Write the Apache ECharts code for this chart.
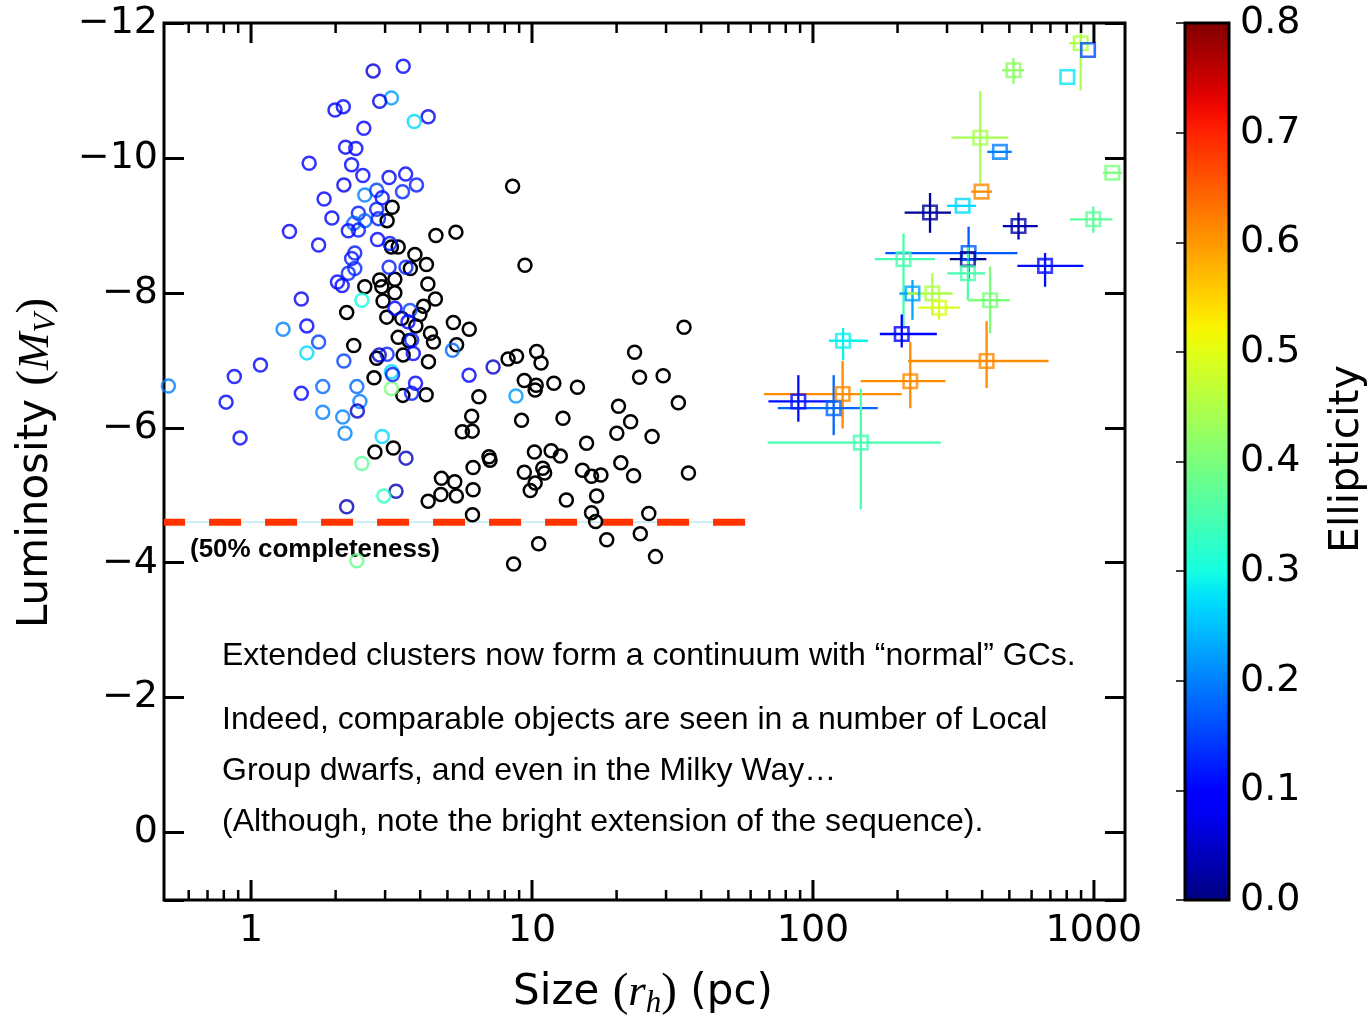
<!DOCTYPE html>
<html><head><meta charset="utf-8">
<script src="https://cdn.jsdelivr.net/npm/echarts@6/dist/echarts.min.js"></script>
<style>html,body{margin:0;padding:0;background:#fff}#c{width:1372px;height:1018px}</style>
</head><body><div id="c"></div>
<script>
// ---------- DATA ----------
// Globular clusters without ellipticity (black circles): size r_h (pc), M_V
const gcSize = [3.18,3.05,4.55,5.36,3.16,3.34,3.83,4.21,3.69,2.87,3.25,4.26,2.54,2.92,3.25,4.53,2.95,4.11,3.99,2.19,3.04,3.44,3.86,5.25,5.98,4.35,4.46,3.34,3.65,5.39,2.32,3.48,2.80,4.28,2.74,3.47,4.20,6.47,6.10,5.65,6.13,2.76,3.21,7.03,6.17,4.76,5.31,4.74,5.38,4.27,6.17,6.14,8.53,9.44,8.22,8.81,10.39,10.77,9.39,10.26,10.35,11.96,14.51,9.18,12.89,23.18,24.15,29.30,34.76,33.18,20.32,22.44,20.04,26.75,15.64,10.20,11.70,12.61,7.09,9.39,10.92,11.09,10.26,9.86,15.12,16.29,17.59,20.71,22.99,36.04,16.98,13.25,16.29,16.84,26.04,24.29,18.45,27.51,10.56,8.60];
const gcMv   = [-9.27,-9.07,-8.85,-8.90,-8.68,-8.68,-8.57,-8.42,-8.36,-8.19,-8.20,-8.13,-8.09,-8.09,-8.00,-7.91,-7.88,-7.80,-7.68,-7.71,-7.64,-7.62,-7.51,-7.56,-7.46,-7.40,-7.27,-7.34,-7.29,-7.23,-7.22,-7.08,-7.03,-6.98,-6.74,-6.48,-6.49,-6.46,-6.17,-5.94,-5.95,-5.64,-5.70,-5.57,-5.41,-5.25,-5.20,-5.01,-4.99,-4.91,-5.08,-4.71,-9.58,-8.41,-7.02,-7.06,-7.13,-6.96,-6.70,-6.56,-6.63,-6.66,-6.60,-6.11,-6.14,-7.12,-6.75,-6.77,-7.49,-6.37,-6.32,-6.09,-5.92,-5.87,-5.77,-5.64,-5.66,-5.58,-5.52,-5.34,-5.40,-5.33,-5.18,-5.07,-5.37,-5.28,-5.30,-5.48,-5.29,-5.33,-4.99,-4.93,-4.74,-4.61,-4.73,-4.43,-4.34,-4.09,-4.28,-3.98];

// Clusters with measured ellipticity (coloured circles)
const ecSize = [2.72,3.48,3.16,2.87,1.99,2.13,4.27,3.81,2.52,2.17,2.36,1.61,2.28,2.50,3.10,3.55,3.88,2.14,2.54,2.80,3.46,1.82,2.93,2.80,1.94,2.41,2.32,2.54,2.41,2.22,2.84,1.37,1.74,2.82,3.12,2.34,2.28,3.10,3.56,2.34,2.22,2.03,2.11,1.51,2.48,3.25,3.68,3.62,3.73,5.21,3.78,3.05,2.86,2.14,1.58,1.74,1.58,1.30,1.08,0.872,0.815,0.914,0.508,1.51,1.80,1.80,2.12,2.16,2.38,2.44,2.39,5.97,7.27,3.56,3.28,2.19,2.48,2.97,3.16,2.38,2.93,3.16,3.19,3.85,3.73,8.77,4.06];
const ecMv   = [-11.29,-11.36,-10.89,-10.84,-10.71,-10.76,-10.61,-10.54,-10.44,-10.16,-10.14,-9.92,-9.90,-9.74,-9.71,-9.76,-9.60,-9.60,-9.45,-9.52,-9.50,-9.39,-9.41,-9.24,-9.11,-9.18,-9.03,-9.07,-8.93,-8.92,-9.10,-8.91,-8.71,-8.79,-8.73,-8.59,-8.51,-8.38,-8.38,-8.36,-8.29,-8.16,-8.11,-7.91,-7.89,-7.77,-7.74,-7.57,-7.30,-7.15,-7.10,-7.09,-7.08,-6.99,-7.11,-7.27,-7.51,-7.46,-6.93,-6.76,-6.38,-5.85,-6.62,-6.51,-6.61,-6.23,-6.16,-5.92,-6.61,-6.39,-6.25,-6.78,-6.90,-5.55,-5.06,-4.83,-5.47,-4.99,-6.58,-4.03,-5.87,-6.83,-6.79,-6.66,-6.51,-6.47,-12.05];
const ecEll  = [0.06,0.10,0.22,0.07,0.10,0.10,0.08,0.27,0.10,0.08,0.10,0.10,0.10,0.10,0.08,0.10,0.12,0.07,0.20,0.15,0.13,0.10,0.10,0.12,0.10,0.12,0.18,0.18,0.12,0.10,0.12,0.08,0.10,0.10,0.12,0.12,0.12,0.12,0.12,0.13,0.13,0.10,0.10,0.08,0.30,0.10,0.15,0.10,0.12,0.18,0.10,0.13,0.05,0.15,0.27,0.15,0.10,0.20,0.10,0.10,0.10,0.10,0.20,0.10,0.18,0.20,0.20,0.20,0.18,0.20,0.05,0.10,0.05,0.04,0.04,0.04,0.37,0.33,0.40,0.38,0.27,0.27,0.12,0.10,0.12,0.22,0.28];

// Extended objects (squares with error bars)
const extSize   = [897,953,517,804,394,463,1163,398,341,261,539,995,358,356,210,670,356,427,226,266,281,207,128,415,222,127.5,88.7,118.5,148];
const extMv     = [-11.70,-11.60,-11.30,-11.20,-10.30,-10.09,-9.78,-9.50,-9.29,-9.19,-8.99,-9.09,-8.59,-8.50,-8.50,-8.40,-8.29,-7.89,-7.99,-7.99,-7.78,-7.39,-7.29,-6.99,-6.69,-6.50,-6.39,-6.29,-5.78];
const extEll    = [0.45,0.16,0.42,0.28,0.44,0.20,0.40,0.61,0.27,0.02,0.03,0.37,0.17,0.01,0.35,0.11,0.35,0.40,0.23,0.45,0.49,0.10,0.29,0.61,0.61,0.61,0.11,0.18,0.35];
const extSizeLo = [816,953,471,804,311,417,1078,366,300,212,474,822,181,307,166,534,301,356,203,218,237,173,114,218,148,67,69.4,75,69];
const extSizeHi = [961,953,564,804,496,510,1259,434,380,310,631,1163,534,414,272,917,410,502,242,314,334,276,157,689,296,207,121,170,285];
const extMvLo   = [-12.40,-11.60,-11.48,-11.20,-10.99,-10.09,-9.78,-9.50,-9.29,-9.48,-9.19,-9.28,-8.98,-8.50,-8.88,-8.59,-8.68,-8.39,-8.19,-8.29,-7.89,-7.68,-7.48,-7.58,-7.27,-6.99,-6.78,-6.78,-6.58];
const extMvHi   = [-11.00,-11.60,-11.10,-11.20,-9.62,-10.09,-9.78,-9.50,-9.29,-8.89,-8.79,-8.89,-8.20,-8.50,-7.51,-8.09,-7.89,-7.40,-7.60,-7.69,-7.60,-7.19,-7.00,-6.59,-6.29,-5.99,-6.09,-5.89,-4.79];

// 50% completeness limit
const completenessMv = -4.6;
const completenessEnd = 58;

// axis ticks
const xMajorTicks = [1, 10, 100, 1000];
const xMinorTicks = [0.6,0.7,0.8,0.9,2,3,4,5,6,7,8,9,20,30,40,50,60,70,80,90,200,300,400,500,600,700,800,900];
const X_MIN = 0.49, X_MAX = 1290, Y_MIN = -12, Y_MAX = 1, Y_STEP = 2;
const ELL_MIN = 0, ELL_MAX = 0.8, ELL_STEP = 0.1;

// ---------- colour map (jet) ----------
const JR=[[0,0],[0.35,0],[0.66,1],[0.89,1],[1,0.5]];
const JG=[[0,0],[0.125,0],[0.375,1],[0.64,1],[0.91,0],[1,0]];
const JB=[[0,0.5],[0.11,1],[0.34,1],[0.65,0],[1,0]];
function interp(p,t){for(let i=1;i<p.length;i++){if(t<=p[i][0]){const a=p[i-1],b=p[i];return a[1]+(b[1]-a[1])*(t-a[0])/(b[0]-a[0]);}}return p[p.length-1][1];}
function jet(t){t=Math.max(0,Math.min(1,t));const c=v=>Math.round(255*Math.max(0,Math.min(1,v)));return 'rgb('+c(interp(JR,t))+','+c(interp(JG,t))+','+c(interp(JB,t))+')';}
function ellColor(e){return jet((e-ELL_MIN)/(ELL_MAX-ELL_MIN));}

const gradStops=[];for(let i=0;i<=40;i++){gradStops.push({offset:i/40,color:jet(i/40)});}

const chart = echarts.init(document.getElementById('c'), null, {renderer:'canvas'});
const FONT = 'DejaVu Sans';
const minusFmt = v => (v > 0.0001 ? '' : (Math.abs(v) < 1e-9 ? '0' : '\u2212' + Math.round(-v)));
const logFmt = v => { const l = Math.log10(v); return Math.abs(l - Math.round(l)) < 1e-6 ? String(Math.round(v)) : ''; };

function tickSeries(values, len, width){
  return {
    type:'custom', xAxisIndex:0, yAxisIndex:0, silent:true, z:10, animation:false,
    data: values.map(v => [v, Y_MIN]),
    renderItem:(params, api) => {
      const x = api.coord([api.value(0), Y_MIN])[0];
      const cs = params.coordSys, top = cs.y, bot = cs.y + cs.height;
      return {type:'group', children:[
        {type:'line', shape:{x1:x,y1:bot,x2:x,y2:bot-len}, style:{stroke:'#000', lineWidth:width}},
        {type:'line', shape:{x1:x,y1:top,x2:x,y2:top+len}, style:{stroke:'#000', lineWidth:width}}
      ]};
    }
  };
}

const yAxisCommon = {
  type:'value', gridIndex:0, min:Y_MIN, max:Y_MAX, interval:Y_STEP, inverse:true,
  axisLine:{show:false, onZero:false}, splitLine:{show:false},
  axisTick:{inside:true, length:20, lineStyle:{color:'#000', width:3}}
};

const option = {
  backgroundColor:'#fff',
  animation:false,
  grid:[
    {left:164, top:23, width:961, height:877, show:true, borderColor:'#000', borderWidth:3, backgroundColor:'transparent'},
    {left:1185, top:23, width:44, height:877, show:false}
  ],
  xAxis:[
    {type:'log', gridIndex:0, min:X_MIN, max:X_MAX, logBase:10,
     axisLine:{show:false, onZero:false}, axisTick:{show:false}, splitLine:{show:false}, minorTick:{show:false},
     axisLabel:{formatter:logFmt, fontFamily:FONT, fontSize:38, color:'#000', margin:12, showMinLabel:true, showMaxLabel:true}},
    {type:'value', gridIndex:1, min:0, max:1, show:false}
  ],
  yAxis:[
    Object.assign({}, yAxisCommon, {position:'left',
      axisLabel:{formatter:minusFmt, fontFamily:FONT, fontSize:38, color:'#000', margin:6}}),
    Object.assign({}, yAxisCommon, {position:'right', axisLabel:{show:false}}),
    {type:'value', gridIndex:1, min:ELL_MIN, max:ELL_MAX, interval:ELL_STEP, position:'right',
     axisLine:{show:false}, splitLine:{show:false},
     axisTick:{inside:true, length:9, lineStyle:{color:'#000', width:1.5}},
     axisLabel:{formatter:v => v.toFixed(1), fontFamily:FONT, fontSize:38, color:'#000', margin:11}}
  ],
  series:[
    // thin line under the completeness limit
    {type:'line', xAxisIndex:0, yAxisIndex:0, silent:true, symbol:'none', z:1,
     data:[[X_MIN, completenessMv],[completenessEnd, completenessMv]],
     lineStyle:{color:'#b4e2ea', width:1.2}},
    // 50% completeness dashed line
    {type:'line', xAxisIndex:0, yAxisIndex:0, silent:true, symbol:'none', z:2,
     data:[[X_MIN, completenessMv],[completenessEnd, completenessMv]],
     lineStyle:{color:'#ff3200', width:7, type:[32,24], dashOffset:11, cap:'butt'}},
    // black circles
    {type:'scatter', xAxisIndex:0, yAxisIndex:0, silent:true, symbol:'circle', symbolSize:13, z:3,
     data: gcSize.map((s,i) => [s, gcMv[i]]),
     itemStyle:{color:'rgba(0,0,0,0)', borderColor:'#000', borderWidth:2.5, opacity:1}},
    // coloured circles
    {type:'scatter', xAxisIndex:0, yAxisIndex:0, silent:true, symbol:'circle', symbolSize:13, z:4,
     data: ecSize.map((s,i) => ({value:[s, ecMv[i]], itemStyle:{color:'rgba(0,0,0,0)', borderColor:ellColor(ecEll[i]), borderWidth:2.5}}))},
    // error bars
    {type:'custom', xAxisIndex:0, yAxisIndex:0, silent:true, z:5,
     data: extSize.map((s,i) => [s, extMv[i], extSizeLo[i], extSizeHi[i], extMvLo[i], extMvHi[i], extEll[i]]),
     renderItem:(params, api) => {
       const cs = params.coordSys;
       const cx = v => Math.max(cs.x, Math.min(cs.x + cs.width, v));
       const cy = v => Math.max(cs.y, Math.min(cs.y + cs.height, v));
       const x = api.value(0), y = api.value(1);
       const a = api.coord([api.value(2), y]), b = api.coord([api.value(3), y]);
       const u = api.coord([x, api.value(4)]), d = api.coord([x, api.value(5)]);
       const col = ellColor(api.value(6));
       const st = {stroke:col, lineWidth:2.3};
       return {type:'group', children:[
         {type:'line', shape:{x1:cx(a[0]), y1:cy(a[1]), x2:cx(b[0]), y2:cy(b[1])}, style:st},
         {type:'line', shape:{x1:cx(u[0]), y1:cy(u[1]), x2:cx(d[0]), y2:cy(d[1])}, style:st}
       ]};
     }},
    // squares
    {type:'scatter', xAxisIndex:0, yAxisIndex:0, silent:true, symbol:'rect', symbolSize:13.5, z:6,
     data: extSize.map((s,i) => ({value:[s, extMv[i]], itemStyle:{color:'rgba(0,0,0,0)', borderColor:ellColor(extEll[i]), borderWidth:2.6}}))},
    // x-axis ticks (bottom + top)
    tickSeries(xMajorTicks, 20, 3),
    tickSeries(xMinorTicks, 10, 2.5),
    // colour bar
    {type:'custom', xAxisIndex:1, yAxisIndex:2, silent:true, z:2,
     data:[[0, ELL_MIN, 1, ELL_MAX]],
     renderItem:(params, api) => {
       const p0 = api.coord([api.value(0), api.value(1)]);
       const p1 = api.coord([api.value(2), api.value(3)]);
       return {type:'rect', shape:{x:p0[0], y:p1[1], width:p1[0]-p0[0], height:p0[1]-p1[1]},
         style:{fill:{type:'linear', x:0, y:1, x2:0, y2:0, colorStops:gradStops}, stroke:'#000', lineWidth:3}};
     }}
  ],
  graphic:[
    {type:'text', x:190, y:550, silent:true, style:{text:'(50% completeness)', font:'bold 26px "Liberation Sans", Arial, sans-serif', fill:'#000', align:'left', verticalAlign:'middle', textAlign:'left', textVerticalAlign:'middle'}},
    {type:'text', x:222, y:656, silent:true, style:{text:'Extended clusters now form a continuum with \u201cnormal\u201d GCs.', font:'32px "Liberation Sans", Arial, sans-serif', fill:'#000', align:'left', verticalAlign:'middle', textAlign:'left', textVerticalAlign:'middle'}},
    {type:'text', x:222, y:720, silent:true, style:{text:'Indeed, comparable objects are seen in a number of Local', font:'32px "Liberation Sans", Arial, sans-serif', fill:'#000', align:'left', verticalAlign:'middle', textAlign:'left', textVerticalAlign:'middle'}},
    {type:'text', x:222, y:771, silent:true, style:{text:'Group dwarfs, and even in the Milky Way\u2026', font:'32px "Liberation Sans", Arial, sans-serif', fill:'#000', align:'left', verticalAlign:'middle', textAlign:'left', textVerticalAlign:'middle'}},
    {type:'text', x:222, y:822, silent:true, style:{text:'(Although, note the bright extension of the sequence).', font:'32px "Liberation Sans", Arial, sans-serif', fill:'#000', align:'left', verticalAlign:'middle', textAlign:'left', textVerticalAlign:'middle'}},
    // y title
    {type:'text', x:36, y:463, rotation:Math.PI/2, silent:true, style:{
      text:'{a|Luminosity }{p|(}{m|M}{s|V}{p|)}', align:'center', verticalAlign:'middle', textAlign:'center', textVerticalAlign:'middle', fill:'#000',
      rich:{
        a:{fontFamily:FONT, fontSize:42, lineHeight:52, verticalAlign:'middle'},
        p:{fontFamily:'Liberation Serif', fontSize:47, lineHeight:52, verticalAlign:'middle'},
        m:{fontFamily:'Liberation Serif', fontStyle:'italic', fontSize:45, lineHeight:52, verticalAlign:'middle'},
        s:{fontFamily:'Liberation Serif', fontStyle:'italic', fontSize:31, lineHeight:34, verticalAlign:'bottom'}
      }}},
    // x title
    {type:'text', x:643, y:993, silent:true, style:{
      text:'{a|Size }{p|(}{m|r}{s|h}{p|)}{a| (pc)}', align:'center', verticalAlign:'middle', textAlign:'center', textVerticalAlign:'middle', fill:'#000',
      rich:{
        a:{fontFamily:FONT, fontSize:42, lineHeight:52, verticalAlign:'middle'},
        p:{fontFamily:'Liberation Serif', fontSize:47, lineHeight:52, verticalAlign:'middle'},
        m:{fontFamily:'Liberation Serif', fontStyle:'italic', fontSize:45, lineHeight:52, verticalAlign:'middle'},
        s:{fontFamily:'Liberation Serif', fontStyle:'italic', fontSize:31, lineHeight:34, verticalAlign:'bottom'}
      }}},
    // colour bar title
    {type:'text', x:1347, y:459, rotation:Math.PI/2, silent:true, style:{text:'Ellipticity', font:'41px "DejaVu Sans"', fill:'#000', align:'center', verticalAlign:'middle', textAlign:'center', textVerticalAlign:'middle'}}
  ]
};
chart.setOption(option);
</script>
</body></html>
